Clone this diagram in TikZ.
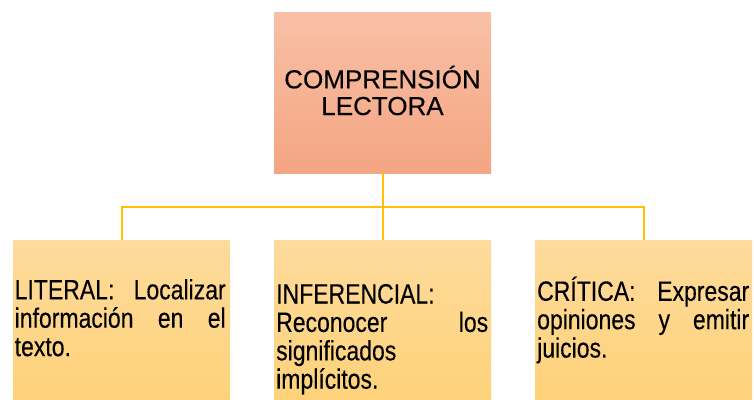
\documentclass[tikz,border=0pt]{standalone}
\usepackage{fontspec}
\setmainfont{Liberation Sans}[FakeBold=0.2]
\newfontfamily\narrowsans[FakeStretch=0.824,FakeBold=0.25]{Liberation Sans}
\begin{document}
\begin{tikzpicture}[x=1pt,y=1pt,
  topbox/.style={rectangle, inner sep=0pt, minimum width=217pt, minimum height=161pt,
    top color={rgb,255:red,248;green,192;blue,166}, bottom color={rgb,255:red,244;green,165;blue,130}},
  levelbox/.style={rectangle, inner sep=0pt, minimum width=217pt, minimum height=160pt,
    top color={rgb,255:red,254;green,219;blue,156}, bottom color={rgb,255:red,254;green,210;blue,122}},
  conn/.style={draw={rgb,255:red,255;green,192;blue,0}, line width=2pt},
  toptext/.style={inner sep=0pt, anchor=base, font=\fontsize{26}{26.7}\selectfont},
  lvltext/.style={inner sep=0pt, anchor=base west, font=\narrowsans\fontsize{27.9}{28.4}\selectfont}]
\useasboundingbox (0,0) rectangle (754,-399);
% boxes
\node[topbox] (top) at (382.5,-92.5) {};
\node[levelbox] (lit) at (121.5,-320) {};
\node[levelbox] (inf) at (382.5,-320) {};
\node[levelbox] (crit) at (643.5,-320) {};
% connectors
\coordinate (bus) at (382.5,-207);
\draw[conn] (top.south) -- (bus);
\draw[conn] (bus) -- (inf.north);
\draw[conn] (lit.north) |- (bus) -| (crit.north);
% texts
\node[toptext] (toplabel) at (382.5,-88.3) {\parbox[t]{215pt}{\centering COMPRENSIÓN\\LECTORA}};
\node[lvltext] (littext) at (14.5,-299.3) {\parbox[t]{211pt}{\hbox to 211pt{LITERAL:\hfill Localizar}\hbox to 211pt{información\hfill en\hfill el}\hbox to 211pt{texto.\hfill}}};
\node[lvltext] (inftext) at (276,-303.5) {\parbox[t]{212pt}{\hbox to 212pt{INFERENCIAL:\hfill}\hbox to 212pt{Reconocer\hfill los}\hbox to 212pt{significados\hfill}\hbox to 212pt{implícitos.\hfill}}};
\node[lvltext] (crittext) at (537,-300.8) {\parbox[t]{212pt}{\hbox to 212pt{CRÍTICA:\hfill Expresar}\hbox to 212pt{opiniones\hfill y\hfill emitir}\hbox to 212pt{juicios.\hfill}}};
\end{tikzpicture}
\end{document}
